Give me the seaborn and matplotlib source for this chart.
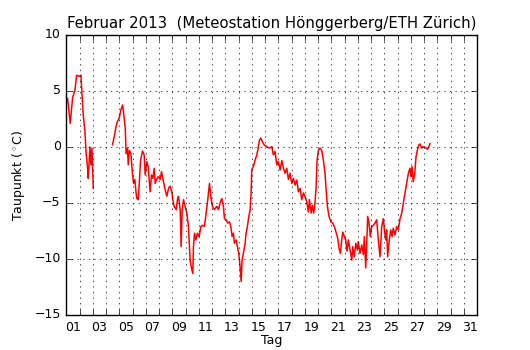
import matplotlib
matplotlib.use('Agg')
import matplotlib.pyplot as plt
import pandas as pd
import seaborn as sns
import numpy as np

# Taupunkt, Februar 2013 (Tag ab 1. Feb 00:00, Wert in Grad C)
tag_1 = [0.00, 0.10, 0.30, 0.48, 0.66, 0.78, 0.98, 1.11, 1.15, 1.28, 1.41, 1.49,
         1.61, 1.66, 1.79, 1.86, 1.94, 2.04]
tp_1 = [4.0, 4.35, 2.1, 4.4, 5.1, 6.4, 6.3, 6.4, 5.5, 2.9, 1.4, -0.4,
        -1.9, -2.8, 0.0, -1.6, -0.1, -3.7]

tag_2 = [3.49, 3.62, 3.75, 3.87, 4.00, 4.12, 4.25, 4.32, 4.45, 4.52, 4.62, 4.68,
         4.77, 4.88, 5.00, 5.08, 5.18, 5.26, 5.33, 5.43, 5.50, 5.60, 5.75, 5.88,
         5.96, 6.08, 6.18, 6.33, 6.43, 6.54, 6.64, 6.71, 6.81, 6.94, 7.09, 7.19,
         7.31, 7.44, 7.59, 7.72,
         7.84, 7.97, 8.04, 8.14, 8.30, 8.39, 8.47, 8.60, 8.67, 8.75, 8.85, 8.97,
         9.10, 9.22, 9.35, 9.43, 9.55, 9.60, 9.68, 9.78, 9.90, 10.03, 10.16, 10.28,
         10.43, 10.56, 10.68, 10.81, 10.91, 11.03, 11.18, 11.36, 11.49, 11.61, 11.74,
         11.86, 11.94, 12.07, 12.19, 12.32, 12.42, 12.52, 12.62, 12.69, 12.82, 12.92,
         13.02, 13.12, 13.20, 13.27, 13.37, 13.50, 13.57, 13.67, 13.78, 13.88, 13.95,
         14.00, 14.12, 14.25, 14.38, 14.46, 14.58, 14.68, 14.81, 14.93, 15.13, 15.33,
         15.51, 15.63,
         15.76, 15.89, 16.01, 16.14, 16.27, 16.39, 16.52, 16.64, 16.77, 16.89, 17.02,
         17.14, 17.27, 17.40, 17.52, 17.65, 17.77, 17.90, 18.02, 18.15, 18.27, 18.35,
         18.48, 18.57, 18.68, 18.78, 18.85, 18.93, 19.03, 19.16, 19.28, 19.41, 19.53,
         19.61, 19.71, 19.83, 19.98, 20.11, 20.23, 20.36, 20.49, 20.59, 20.69, 20.79,
         20.87, 20.99, 21.09, 21.19, 21.29, 21.42, 21.55, 21.62, 21.74, 21.85, 21.97,
         22.04, 22.17, 22.30, 22.42, 22.50, 22.60, 22.68, 22.75, 22.85, 22.95, 23.05,
         23.18, 23.30, 23.43, 23.55, 23.68, 23.81, 23.93,
         24.01, 24.11, 24.18, 24.26, 24.38, 24.49, 24.59, 24.68, 24.81, 24.94, 25.06,
         25.19, 25.32, 25.44, 25.57, 25.69, 25.82, 25.94, 26.02, 26.09, 26.19, 26.30,
         26.40, 26.50, 26.60, 26.70, 26.82, 26.94, 27.10, 27.25, 27.35, 27.45]
tp_2 = [0.2, 0.9, 1.8, 2.3, 2.6, 3.3, 3.75, 3.15, 1.7, -0.6, -0.1, -1.6,
        -0.3, -0.6, -2.5, -3.25, -2.9, -4.0, -4.6, -4.7, -3.5, -1.3, -0.36, -0.7,
        -2.5, -1.3, -1.75, -4.0, -2.5, -2.8, -1.9, -3.25, -2.9, -2.65, -2.9, -2.2,
        -2.9, -3.7, -4.4, -3.7,
        -3.5, -4.0, -4.7, -5.3, -5.6, -4.7, -4.4, -5.6, -8.9, -5.6, -4.7, -5.3,
        -5.9, -7.1, -10.1, -10.7, -11.3, -8.9, -7.7, -8.3, -7.7, -8.0, -7.1, -7.0,
        -7.1, -5.9, -4.7, -3.25, -4.4, -5.3, -5.6, -5.3, -5.6, -5.0, -4.6,
        -5.3, -6.4, -6.5, -6.8, -6.7, -7.1, -8.0, -7.7, -8.6, -8.3, -8.9,
        -9.5, -10.7, -12.0, -10.1, -9.5, -8.6, -7.7, -7.1, -6.2, -5.6, -4.1,
        -2.05, -1.75, -1.2, -0.7, -0.27, 0.6, 0.8, 0.45, 0.2, 0.03, -0.1,
        0.03, -0.7,
        -0.4, -1.6, -1.3, -2.05, -1.2, -1.9, -2.35, -1.9, -2.9, -2.35, -3.25,
        -2.8, -3.4, -2.95, -4.0, -3.7, -4.7, -4.1, -4.4, -4.9, -5.8, -4.7,
        -5.9, -5.2, -5.9, -4.9, -3.7, -1.2, -0.3, -0.1, -0.3, -1.2, -2.35,
        -3.8, -5.3, -6.2, -6.7, -6.8, -7.1, -7.6, -8.15, -9.05, -9.5, -8.3,
        -7.6, -8.0, -8.3, -9.3, -8.3, -9.2, -10.1, -8.9, -9.8, -8.6, -9.2,
        -8.45, -9.5, -8.75, -9.6, -8.0, -10.8, -8.6, -6.2, -6.8, -8.0, -7.1,
        -7.0, -6.8, -6.5, -8.3, -9.8, -7.1, -6.4,
        -7.4, -8.3, -7.4, -9.8, -8.3, -7.4, -8.0, -7.25, -7.85, -7.1, -7.4,
        -6.4, -5.9, -5.0, -4.1, -3.25, -2.35, -1.9, -2.65, -1.75, -3.1, -2.35,
        -0.85, -0.27, 0.18, 0.27, -0.1, 0.03, -0.03, -0.2, -0.03, 0.3]

df = pd.DataFrame({
    'tag': tag_1 + tag_2,
    'taupunkt': tp_1 + tp_2,
    'abschnitt': [1] * len(tag_1) + [2] * len(tag_2),
})

tick_labels = ['%02d' % d for d in range(1, 32, 2)]

plt.style.use('classic')
fig = plt.figure(figsize=(5.3, 3.5), dpi=100, facecolor='white')
ax = fig.add_axes([0.125, 0.1, 0.775, 0.8])

sns.lineplot(data=df, x='tag', y='taupunkt', units='abschnitt', estimator=None,
             color='red', linewidth=1.1, ax=ax, legend=False)

ax.set_xlim(0, 31)
ax.set_ylim(-15, 10)
ax.set_xticks(range(0, 32))
ax.set_xticklabels([])
ax.set_xticks(np.arange(0.5, 31, 2), minor=True)
ax.set_xticklabels(tick_labels, minor=True)
ax.tick_params(axis='x', which='minor', length=0, labelsize=9)
ax.tick_params(axis='y', labelsize=9)
ax.set_yticks(range(-15, 11, 5))
ax.grid(True, which='major', color='k', linestyle=':', linewidth=0.5)

ax.set_xlabel('Tag', fontsize=9, labelpad=0)
ax.set_ylabel('Taupunkt ($^\\circ$C)', fontsize=9)
ax.set_title('Februar 2013  (Meteostation Hönggerberg/ETH Zürich)', fontsize=10.7)

fig.savefig('out.png', dpi=100, facecolor='white')
